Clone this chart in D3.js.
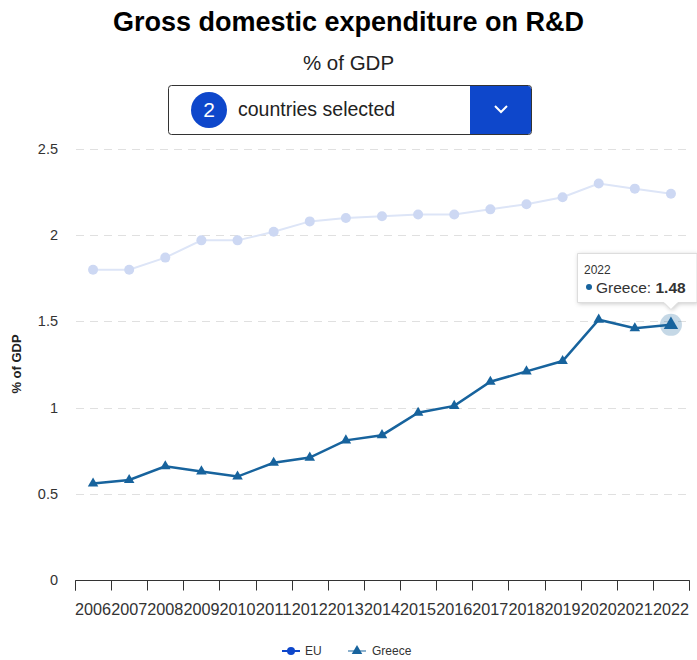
<!DOCTYPE html>
<html>
<head>
<meta charset="utf-8">
<script src="https://cdn.jsdelivr.net/npm/d3@7"></script>
<style>
  html, body { margin: 0; padding: 0; background: #fff; }
  svg { display: block; font-family: "Liberation Sans", Arial, sans-serif; }
</style>
</head>
<body>
<svg id="chart" width="697" height="660"></svg>
<script>
// Gross domestic expenditure on R&D, % of GDP
const years = ["2006","2007","2008","2009","2010","2011","2012","2013","2014","2015","2016","2017","2018","2019","2020","2021","2022"];
const euValues = [1.80,1.80,1.87,1.97,1.97,2.02,2.08,2.10,2.11,2.12,2.12,2.15,2.18,2.22,2.30,2.27,2.24];
const greeceValues = [0.56,0.58,0.66,0.63,0.60,0.68,0.71,0.81,0.84,0.97,1.01,1.15,1.21,1.27,1.51,1.46,1.48];
const yTicks = [0, 0.5, 1, 1.5, 2, 2.5];
const seriesNames = ["EU", "Greece"];

const svg = d3.select("#chart");
const W = 697;

const x = d3.scaleBand().domain(years).range([75, 689]);
const y = d3.scaleLinear().domain([0, 2.5]).range([580, 149]);
const cx = d => x(d) + x.bandwidth() / 2;

// Titles
svg.append("text").attr("x", W / 2).attr("y", 31).attr("text-anchor", "middle")
  .attr("font-size", 27).attr("font-weight", "bold").attr("fill", "#000")
  .text("Gross domestic expenditure on R&D");
svg.append("text").attr("x", W / 2).attr("y", 70).attr("text-anchor", "middle")
  .attr("font-size", 20.5).attr("fill", "#222").text("% of GDP");

// Country selector
const sel = svg.append("g");
sel.append("rect").attr("x", 168.5).attr("y", 85.5).attr("width", 363).attr("height", 49)
  .attr("rx", 3).attr("fill", "#fff").attr("stroke", "#333").attr("stroke-width", 1);
sel.append("path")
  .attr("d", "M470,86 H528 Q531,86 531,89 V131 Q531,134 528,134 H470 Z")
  .attr("fill", "#0e47cb");
sel.append("path").attr("d", "M495,106 L501,112 L507,106")
  .attr("fill", "none").attr("stroke", "#fff").attr("stroke-width", 2);
sel.append("circle").attr("cx", 209).attr("cy", 110).attr("r", 18).attr("fill", "#0e47cb");
sel.append("text").attr("x", 209).attr("y", 117).attr("text-anchor", "middle")
  .attr("font-size", 21).attr("fill", "#fff").text("2");
sel.append("text").attr("x", 238).attr("y", 116).attr("font-size", 19.5).attr("fill", "#222")
  .text("countries selected");

// Grid
svg.append("g").selectAll("line").data(yTicks.filter(d => d > 0)).join("line")
  .attr("x1", 76).attr("x2", 690).attr("y1", d => Math.round(y(d)) + 0.5).attr("y2", d => Math.round(y(d)) + 0.5)
  .attr("stroke", "#e0e0e0").attr("stroke-dasharray", "8,6");

// Y axis labels
svg.append("g").selectAll("text").data(yTicks).join("text")
  .attr("x", 58).attr("y", d => y(d) + 5).attr("text-anchor", "end")
  .attr("font-size", 14.5).attr("fill", "#333").text(d => d);

svg.append("text").attr("transform", "translate(21,364) rotate(-90)")
  .attr("text-anchor", "middle").attr("font-size", 13).attr("font-weight", "bold")
  .attr("fill", "#222").text("% of GDP");

// X axis
const xAxis = svg.append("g").attr("transform", "translate(0,580.5)")
  .call(d3.axisBottom(x).tickSize(10).tickFormat(""));
xAxis.select(".domain").attr("stroke", "#333").attr("d", "M75.5,10V0H689.5V10");
xAxis.selectAll(".tick").remove();
const edges = years.map(d => x(d)).concat([x(years[years.length - 1]) + x.bandwidth()]);
xAxis.selectAll("line.edge").data(edges).join("line").attr("class", "edge")
  .attr("x1", d => Math.round(d) + 0.5).attr("x2", d => Math.round(d) + 0.5)
  .attr("y1", 0).attr("y2", 10).attr("stroke", "#333");
svg.append("g").selectAll("text").data(years).join("text")
  .attr("x", d => cx(d)).attr("y", 615).attr("text-anchor", "middle")
  .attr("font-size", 16).attr("fill", "#333")
  .attr("textLength", 36).attr("lengthAdjust", "spacingAndGlyphs").text(d => d);

// Series
const line = d3.line().x((d, i) => cx(years[i])).y(d => y(d));
const euColor = "#cdd8f3";
const grColor = "#17639d";

svg.append("path").datum(euValues).attr("d", line)
  .attr("fill", "none").attr("stroke", "#dde5f7").attr("stroke-width", 2);
svg.append("g").selectAll("circle").data(euValues).join("circle")
  .attr("cx", (d, i) => cx(years[i])).attr("cy", d => y(d)).attr("r", 5).attr("fill", euColor);

svg.append("path").datum(greeceValues).attr("d", line)
  .attr("fill", "none").attr("stroke", grColor).attr("stroke-width", 2.5);

const tri = d3.symbol().type(d3.symbolTriangle).size(48);
const last = greeceValues.length - 1;
svg.append("circle").attr("cx", cx(years[last])).attr("cy", y(greeceValues[last]))
  .attr("r", 11).attr("fill", "#17639d").attr("fill-opacity", 0.25);
svg.append("g").selectAll("path").data(greeceValues).join("path")
  .attr("transform", (d, i) => `translate(${cx(years[i])},${y(d)})`)
  .attr("d", (d, i) => i === last ? d3.symbol().type(d3.symbolTriangle).size(90)() : tri())
  .attr("fill", grColor);

// Tooltip for the latest Greece value
const tx = cx(years[last]);
const tip = svg.append("g");
tip.append("path")
  .attr("d", `M577.5,253.5 H697 V302.5 H${tx + 7} L${tx} ${309.5} L${tx - 7},302.5 H577.5 Z`)
  .attr("fill", "#fff").attr("stroke", "#ddd").attr("stroke-width", 1)
  .style("filter", "drop-shadow(1px 1px 2px rgba(0,0,0,0.2))");
tip.append("text").attr("x", 584).attr("y", 274).attr("font-size", 12).attr("fill", "#333")
  .text(years[last]);
tip.append("circle").attr("cx", 589).attr("cy", 287).attr("r", 3).attr("fill", grColor);
const tt = tip.append("text").attr("x", 596).attr("y", 292.5).attr("font-size", 15.5).attr("fill", "#333");
tt.append("tspan").text("Greece: ");
tt.append("tspan").attr("font-weight", "bold").text(greeceValues[last].toFixed(2));

// Legend
const lg = svg.append("g").attr("font-size", 12).attr("fill", "#333");
lg.append("line").attr("x1", 282).attr("x2", 300).attr("y1", 651).attr("y2", 651)
  .attr("stroke", "#0e47cb").attr("stroke-width", 2);
lg.append("circle").attr("cx", 291).attr("cy", 651).attr("r", 4).attr("fill", "#0e47cb");
lg.append("text").attr("x", 305).attr("y", 655).text(seriesNames[0]);
lg.append("line").attr("x1", 348).attr("x2", 366).attr("y1", 651).attr("y2", 651)
  .attr("stroke", grColor).attr("stroke-width", 2).attr("stroke-opacity", 0.5);
lg.append("path").attr("transform", "translate(357,651)").attr("d", tri()).attr("fill", grColor);
lg.append("text").attr("x", 372).attr("y", 655).text(seriesNames[1]);
</script>
</body>
</html>
